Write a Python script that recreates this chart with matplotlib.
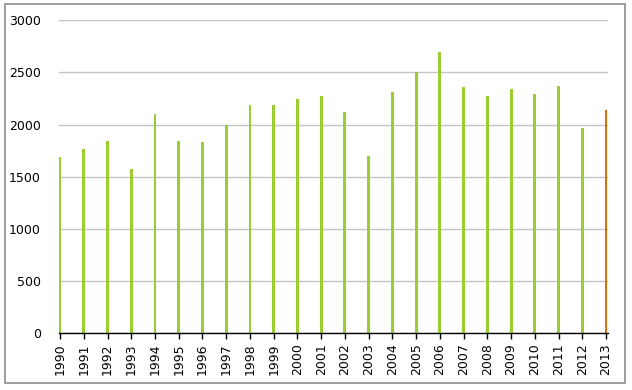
import numpy as np
import matplotlib
matplotlib.use("Agg")
import matplotlib.pyplot as plt
from matplotlib.patches import Rectangle

years = [str(y) for y in range(1990, 2014)]
values = [1685, 1770, 1840, 1570, 2100, 1840, 1830, 2000, 2185, 2185, 2245, 2270,
          2120, 1695, 2310, 2500, 2700, 2365, 2270, 2340, 2290, 2375, 1965, 2145]
bar_colors = ['#9ACD32'] * 23 + ['#E46C0A']

fig = plt.figure(figsize=(6.32, 3.9), dpi=100)
W, H = 632, 390
ax = fig.add_axes([59 / W, (H - 333.3) / H, 548.7 / W, 313 / H])

x = np.arange(len(years))
ax.bar(x, values, width=0.12, color=bar_colors, zorder=3)

ax.set_xlim(-0.045, 23.07)
ax.set_ylim(0, 3000)
ax.set_yticks(range(0, 3001, 500))
ax.set_xticks(x)
ax.set_xticklabels(years, rotation=90, fontsize=9, family='DejaVu Sans')
for lab in ax.get_yticklabels():
    lab.set_fontsize(9)

ax.grid(axis='y', color='#c4c4c4', linewidth=1, zorder=0)
for s in ['top', 'right', 'left']:
    ax.spines[s].set_visible(False)
ax.spines['bottom'].set_color('black')
ax.spines['bottom'].set_linewidth(1)
ax.spines['bottom'].set_zorder(4)
ax.tick_params(axis='y', length=0, pad=13, colors='black')
ax.tick_params(axis='x', length=4, width=1, direction='out', pad=3, colors='black')

# outer frame
fig.patches.append(Rectangle((5 / W, (H - 383) / H), 620 / W, 379 / H,
                             transform=fig.transFigure, fill=False,
                             edgecolor='#969696', linewidth=1.3))

fig.savefig('out.png', dpi=100)
